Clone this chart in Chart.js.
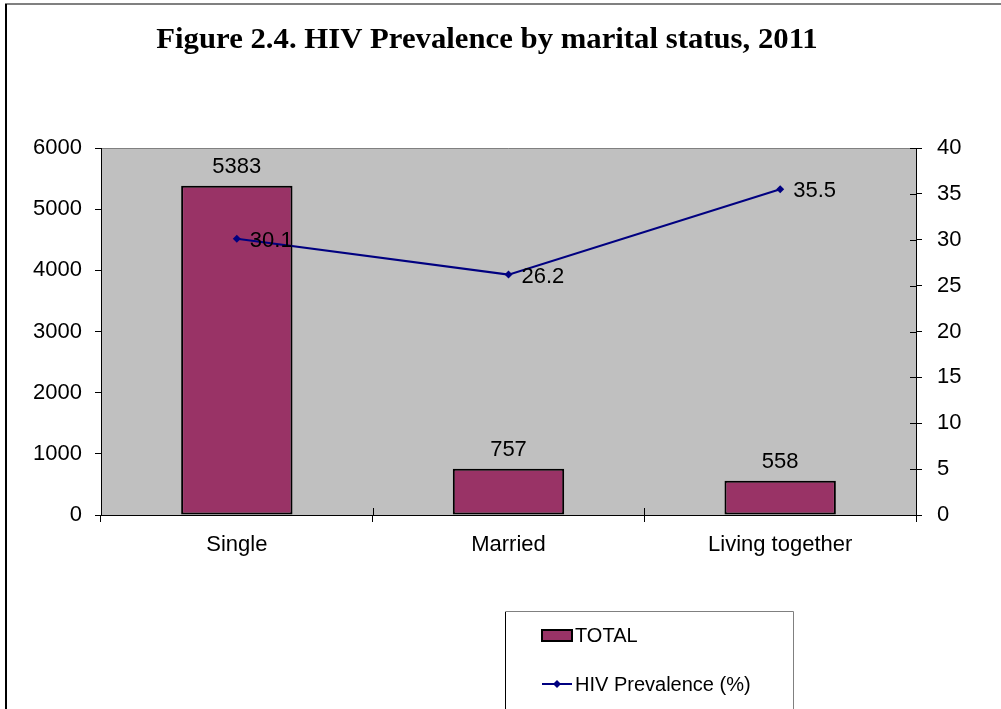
<!DOCTYPE html>
<html>
<head>
<meta charset="utf-8">
<script src="https://cdn.jsdelivr.net/npm/chart.js@4"></script>
<style>
  html, body { margin: 0; padding: 0; background: #fff; }
  #wrap { width: 1001px; height: 709px; position: relative; }
</style>
</head>
<body>
<div id="wrap"><canvas id="chart"></canvas></div>
<script>
const CATEGORIES = ["Single", "Married", "Living together"];
const TOTAL = [5383, 757, 558];
const PREVALENCE = [30.1, 26.2, 35.5];
const TITLE = "Figure 2.4. HIV Prevalence by marital status, 2011";

const BAR_COLOR = "#993366";
const LINE_COLOR = "#000080";
const PLOT_BG = "#c0c0c0";
const SANS = "'Liberation Sans', Arial, sans-serif";

// frame, title, plot background, value labels and the boxed legend
const decorations = {
  id: "decorations",
  beforeDraw(chart) {
    const { ctx, chartArea: a } = chart;
    ctx.save();
    ctx.fillStyle = PLOT_BG;
    ctx.fillRect(a.left, a.top, a.right - a.left, a.bottom - a.top);
    ctx.strokeStyle = "#808080";
    ctx.lineWidth = 1;
    ctx.beginPath();
    ctx.moveTo(a.left, a.top + 0.5);
    ctx.lineTo(a.right, a.top + 0.5);
    ctx.stroke();

    // outer border
    ctx.lineWidth = 2;
    ctx.strokeStyle = "#808080";
    ctx.beginPath();
    ctx.moveTo(5, 4);
    ctx.lineTo(1001, 4);
    ctx.stroke();
    ctx.strokeStyle = "#000";
    ctx.beginPath();
    ctx.moveTo(6, 4);
    ctx.lineTo(6, 709);
    ctx.stroke();

    // title, slightly widened serif
    ctx.fillStyle = "#000";
    ctx.font = "bold 29px 'Liberation Serif', 'Times New Roman', serif";
    ctx.textAlign = "center";
    ctx.textBaseline = "alphabetic";
    ctx.translate(487, 48);
    ctx.scale(1.06, 1);
    ctx.fillText(TITLE, 0, 0);
    ctx.restore();
  },
  afterDraw(chart) {
    const { ctx, chartArea: a, scales } = chart;
    ctx.save();
    ctx.strokeStyle = "#000";
    ctx.lineWidth = 1;
    ctx.beginPath();
    // inner halves of the crossing tick marks
    scales.y1.ticks.forEach((t, i) => {
      const y = Math.round(scales.y1.getPixelForTick(i)) + 0.5;
      ctx.moveTo(a.right - 6, y);
      ctx.lineTo(a.right, y);
    });
    for (let i = 0; i < CATEGORIES.length - 1; i++) {
      const x = Math.round((scales.x.getPixelForValue(i) + scales.x.getPixelForValue(i + 1)) / 2) + 0.5;
      ctx.moveTo(x, a.bottom - 7);
      ctx.lineTo(x, a.bottom);
    }
    ctx.stroke();

    ctx.fillStyle = "#000";
    ctx.font = "22px " + SANS;
    ctx.textBaseline = "middle";
    ctx.textAlign = "center";
    chart.getDatasetMeta(0).data.forEach((el, i) => {
      ctx.fillText(String(TOTAL[i]), el.x, el.y - 19);
    });
    ctx.textAlign = "left";
    chart.getDatasetMeta(1).data.forEach((el, i) => {
      ctx.fillText(PREVALENCE[i].toFixed(1), el.x + 13, el.y + 2);
    });

    // legend box
    ctx.lineWidth = 1;
    ctx.strokeStyle = "#808080";
    ctx.beginPath();
    ctx.moveTo(505.5, 709);
    ctx.lineTo(505.5, 611.5);
    ctx.lineTo(793.5, 611.5);
    ctx.lineTo(793.5, 709);
    ctx.stroke();
    ctx.strokeStyle = "#000";
    ctx.beginPath();
    ctx.moveTo(505.5, 612);
    ctx.lineTo(505.5, 709);
    ctx.stroke();

    const ds = chart.data.datasets;
    ctx.fillStyle = ds[0].backgroundColor;
    ctx.fillRect(542, 630, 30, 11);
    ctx.strokeStyle = "#000";
    ctx.lineWidth = 2;
    ctx.strokeRect(542, 630, 30, 11);

    ctx.strokeStyle = ds[1].borderColor;
    ctx.lineWidth = 2;
    ctx.beginPath();
    ctx.moveTo(542, 684);
    ctx.lineTo(572, 684);
    ctx.stroke();
    ctx.fillStyle = ds[1].borderColor;
    ctx.beginPath();
    ctx.moveTo(557, 680);
    ctx.lineTo(561, 684);
    ctx.lineTo(557, 688);
    ctx.lineTo(553, 684);
    ctx.closePath();
    ctx.fill();

    ctx.fillStyle = "#000";
    ctx.font = "20px " + SANS;
    ctx.textAlign = "left";
    ctx.textBaseline = "middle";
    ctx.fillText(ds[0].label, 575, 636);
    ctx.fillText(ds[1].label, 575, 685);
    ctx.restore();
  }
};

new Chart(document.getElementById("chart"), {
  type: "bar",
  data: {
    labels: CATEGORIES,
    datasets: [
      {
        type: "bar",
        label: "TOTAL",
        data: TOTAL,
        yAxisID: "y",
        backgroundColor: BAR_COLOR,
        borderColor: "#000",
        borderWidth: 2,
        borderSkipped: false,
        categoryPercentage: 1,
        barPercentage: 0.41,
        order: 1,
      },
      {
        type: "line",
        label: "HIV Prevalence (%)",
        data: PREVALENCE,
        yAxisID: "y1",
        borderColor: LINE_COLOR,
        backgroundColor: LINE_COLOR,
        borderWidth: 2,
        pointStyle: "rectRot",
        pointRadius: 4,
        pointBorderWidth: 0,
        tension: 0,
        order: 0,
      },
    ],
  },
  options: {
    responsive: true,
    maintainAspectRatio: false,
    animation: false,
    layout: { padding: { top: 148, left: 0, right: 0, bottom: 0 } },
    plugins: { legend: { display: false }, title: { display: false }, tooltip: { enabled: false } },
    scales: {
      x: {
        afterFit(s) { s.height = 194; },
        grid: { drawOnChartArea: false, tickLength: 7, color: "#000", offset: true },
        border: { color: "#000" },
        ticks: { color: "#000", padding: 10, font: { family: SANS, size: 22 } },
      },
      y: {
        position: "left",
        min: 0,
        max: 6000,
        afterFit(s) { s.width = 101; },
        grid: { drawOnChartArea: false, tickLength: 6, color: "#000" },
        border: { color: "#000" },
        ticks: {
          stepSize: 1000,
          color: "#000",
          padding: 13,
          font: { family: SANS, size: 22 },
          callback: (v) => String(v),
        },
      },
      y1: {
        position: "right",
        min: 0,
        max: 40,
        afterFit(s) { s.width = 85; },
        grid: { drawOnChartArea: false, tickLength: 6, color: "#000" },
        border: { color: "#000" },
        ticks: { stepSize: 5, color: "#000", padding: 15, font: { family: SANS, size: 22 } },
      },
    },
  },
  plugins: [decorations],
});
</script>
</body>
</html>
